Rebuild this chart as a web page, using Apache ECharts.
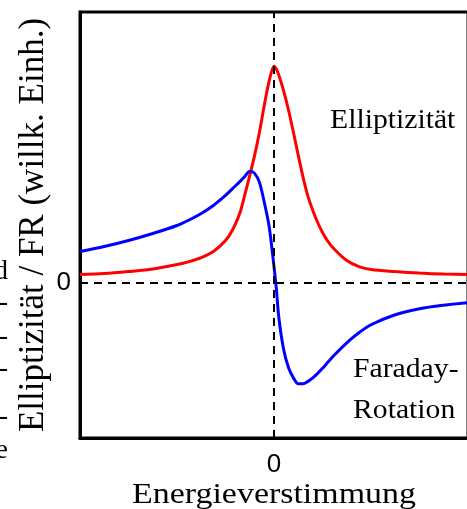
<!DOCTYPE html>
<html>
<head>
<meta charset="utf-8">
<script src="https://cdn.jsdelivr.net/npm/echarts@6/dist/echarts.min.js"></script>
<style>
  html, body { margin: 0; padding: 0; background: #fff; }
  #chart { width: 467px; height: 509px; }
</style>
</head>
<body>
<div id="chart"></div>
<script>
// Energieverstimmung (willk. Einh.), gemeinsames Raster fuer beide Kurven
const energy = [-4, -3.5, -3, -2.5, -2, -1.75, -1.5, -1.25, -1, -0.85, -0.7, -0.6, -0.5, -0.4, -0.3, -0.2, -0.1,
  0, 0.05, 0.1, 0.2, 0.3, 0.4, 0.5, 0.6, 0.7, 0.8, 0.9, 1, 1.1, 1.25, 1.5, 1.75, 2, 2.5, 3, 3.5, 4]
// Elliptizitaet (rot)
const ellipticity = [0.08, 0.09, 0.11, 0.135, 0.18, 0.21, 0.25, 0.31, 0.42, 0.53, 0.7, 0.88, 1.07, 1.27, 1.5, 1.77, 2.01,
  2.16, 2.13, 2.07, 1.91, 1.72, 1.5, 1.27, 1.05, 0.86, 0.72, 0.6, 0.5, 0.42, 0.33, 0.22, 0.16, 0.13, 0.11, 0.095, 0.085, 0.08]
// Faraday-Rotation (blau)
const faraday = [0.31, 0.36, 0.42, 0.49, 0.57, 0.625, 0.69, 0.77, 0.87, 0.94, 1.01, 1.06, 1.11, 1.09, 1.0, 0.8, 0.56,
  0.16, -0.07, -0.35, -0.67, -0.85, -0.95, -1.01, -1.01, -0.985, -0.95, -0.905, -0.855, -0.8, -0.72, -0.6, -0.5, -0.42, -0.32, -0.26, -0.225, -0.2]
const xTicks = [0]
const yTicks = [0]

const serif = '"Liberation Serif", "DejaVu Serif", serif'
const sans = '"Liberation Sans", Arial, sans-serif'

const chart = echarts.init(document.getElementById('chart'))

const pairs = ys => energy.map((x, i) => [x, ys[i]])

const note = (text, x, y) => ({
  type: 'text', x: x, y: y, scaleX: 1.1,
  style: { text: text, font: '27px ' + serif, fill: '#000', verticalAlign: 'middle' },
})
const cutoff = (text, y) => ({
  type: 'text', x: 8, y: y,
  style: { text: text, font: '28px ' + serif, fill: '#000', align: 'right', verticalAlign: 'middle' },
})

const option = {
  animation: false,
  grid: {
    left: 80,
    top: 12,
    width: 388,
    height: 426,
    outerBoundsMode: 'none',
    containLabel: false,
    show: true,
    borderColor: '#000',
    borderWidth: 3,
  },
  xAxis: {
    type: 'value',
    min: -4,
    max: 4,
    axisLine: { show: true, onZero: false, lineStyle: { color: '#000', width: 3 } },
    axisTick: { show: false },
    splitLine: { show: false },
    axisLabel: {
      customValues: xTicks,
      color: '#000',
      fontFamily: sans,
      fontSize: 26,
      margin: 14,
    },
  },
  yAxis: {
    type: 'value',
    min: -1.55,
    max: 2.7,
    name: 'Elliptizität / FR (willk. Einh.)',
    nameLocation: 'middle',
    nameGap: 29,
    nameMoveOverlap: false,
    nameTextStyle: { color: '#000', fontFamily: serif, fontSize: 35 },
    axisLine: { show: true, onZero: false, lineStyle: { color: '#000', width: 3 } },
    axisTick: { show: false },
    splitLine: { show: false },
    axisLabel: {
      customValues: yTicks,
      color: '#000',
      fontFamily: sans,
      fontSize: 26,
      margin: 9,
    },
  },
  series: [
    {
      type: 'line',
      data: [],
      z: 1,
      markLine: {
        silent: true,
        symbol: 'none',
        label: { show: false },
        lineStyle: { color: '#000', width: 2, type: [8, 6] },
        data: [{ xAxis: 0 }, { yAxis: 0 }],
      },
    },
    {
      name: 'Elliptizität',
      type: 'line',
      data: pairs(ellipticity),
      smooth: 0.3,
      showSymbol: false,
      z: 3,
      lineStyle: { color: '#ff0000', width: 3 },
    },
    {
      name: 'Faraday-Rotation',
      type: 'line',
      data: pairs(faraday),
      smooth: 0.3,
      showSymbol: false,
      z: 4,
      lineStyle: { color: '#0000ff', width: 3 },
    },
  ],
  graphic: [
    // x-Achsentitel, im Original breit gezogen
    {
      type: 'text', x: 274, y: 495, scaleX: 1.17,
      style: { text: 'Energieverstimmung', font: '29px ' + serif, fill: '#000', align: 'center', verticalAlign: 'middle' },
    },
    note('Elliptizität', 330, 121),
    note('Faraday-', 353, 370),
    note('Rotation', 353, 411),
    // abgeschnittene Textreste am linken Bildrand
    cutoff('d', 272),
    cutoff('-', 303),
    cutoff('-', 337),
    cutoff('-', 369),
    cutoff('-', 417),
    cutoff('e', 451),
  ],
}

chart.setOption(option)
</script>
</body>
</html>
